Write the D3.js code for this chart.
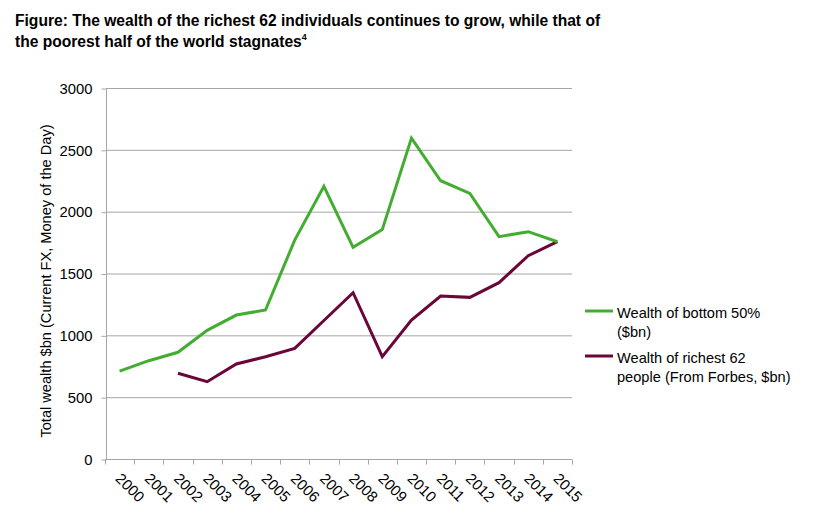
<!DOCTYPE html>
<html>
<head>
<meta charset="utf-8">
<script src="https://cdn.jsdelivr.net/npm/d3@7"></script>
<style>
  body { margin: 0; background: #fff; }
  text { font-family: "Liberation Sans", Arial, Helvetica, sans-serif; fill: #000; }
</style>
</head>
<body>
<svg id="chart" width="827" height="527"></svg>
<script>
// data
var years = ["2000","2001","2002","2003","2004","2005","2006","2007",
             "2008","2009","2010","2011","2012","2013","2014","2015"];
var bottom50 = [710, 795, 863, 1040, 1164, 1205, 1770, 2205, 1712, 1855, 2595, 2250, 2148, 1798, 1838, 1757];
var richest62 = [null, null, 693, 625, 768, 827, 895, 1120, 1345, 827, 1124, 1318, 1307, 1426, 1644, 1757];
var yTicks = [0, 500, 1000, 1500, 2000, 2500, 3000];

var green = "#42ad30", maroon = "#6a0638", gridColor = "#a6a6a6";

var svg = d3.select("#chart");

// plot area
var plotLeft = 106, plotRight = 572, plotTop = 88, plotBottom = 459;

var x = d3.scaleBand().domain(years).range([plotLeft - 1, plotRight]);
var y = d3.scaleLinear().domain([0, 3000]).range([plotBottom, plotTop]);

// title
var title = svg.append("g").style("font-weight", "bold").style("font-size", "15.6px");
title.append("text").attr("x", 15).attr("y", 26)
    .text("Figure: The wealth of the richest 62 individuals continues to grow, while that of");
var t2 = title.append("text").attr("x", 15).attr("y", 47).text("the poorest half of the world stagnates");
t2.append("tspan").attr("dy", -7).style("font-size", "9px").text("4");

// gridlines
svg.append("g").selectAll("line")
    .data(yTicks.filter(function(d) { return d > 0; }))
    .enter().append("line")
    .attr("x1", plotLeft).attr("x2", plotRight)
    .attr("y1", function(d) { return y(d) + 0.5; })
    .attr("y2", function(d) { return y(d) + 0.5; })
    .attr("stroke", gridColor).attr("stroke-width", 1);

// y axis
var yAxis = svg.append("g")
    .attr("transform", "translate(" + (plotLeft + 0.5) + ",0.5)")
    .call(d3.axisLeft(y).tickValues(yTicks).tickFormat(d3.format("d")).tickSize(5).tickPadding(9));
yAxis.select(".domain").attr("stroke", gridColor).attr("d", "M0," + plotTop + "V" + plotBottom);
yAxis.selectAll(".tick line").attr("stroke", gridColor);
yAxis.selectAll("text").style("font-size", "14.8px").style("font-family", null).attr("fill", "#000");

// x axis
var xAxis = svg.append("g")
    .attr("transform", "translate(0," + (plotBottom + 0.5) + ")");
xAxis.append("line").attr("x1", plotLeft - 1).attr("x2", plotRight).attr("y1", 0).attr("y2", 0)
    .attr("stroke", gridColor);
var tickXs = years.map(function(d) { return x(d); }).concat([x.range()[1]]);
xAxis.selectAll(".xtick").data(tickXs).enter().append("line")
    .attr("x1", function(d) { return Math.round(d) + 0.5; })
    .attr("x2", function(d) { return Math.round(d) + 0.5; })
    .attr("y1", 0).attr("y2", 5)
    .attr("stroke", gridColor);
xAxis.selectAll(".xlabel").data(years).enter().append("text")
    .attr("transform", function(d) {
      return "translate(" + (x(d) + x.bandwidth() / 2 - 5) + ",20) rotate(45)";
    })
    .style("font-size", "15px")
    .text(function(d) { return d; });

// y axis title
svg.append("text")
    .attr("transform", "translate(51,281) rotate(-90)")
    .attr("text-anchor", "middle")
    .style("font-size", "14.6px")
    .text("Total wealth $bn (Current FX, Money of the Day)");

// lines
var line = d3.line()
    .defined(function(d) { return d.v != null; })
    .x(function(d) { return x(d.year) + x.bandwidth() / 2; })
    .y(function(d) { return y(d.v); });

function series(vals) {
  return years.map(function(yr, i) { return {year: yr, v: vals[i]}; });
}

svg.append("path").datum(series(richest62))
    .attr("d", line).attr("fill", "none")
    .attr("stroke", maroon).attr("stroke-width", 3).attr("stroke-linejoin", "miter");
svg.append("path").datum(series(bottom50))
    .attr("d", line).attr("fill", "none")
    .attr("stroke", green).attr("stroke-width", 3).attr("stroke-linejoin", "miter");

// legend
var legend = [
  {color: green, lines: ["Wealth of bottom 50%", "($bn)"], y: 311},
  {color: maroon, lines: ["Wealth of richest 62", "people (From Forbes, $bn)"], y: 356}
];
var lg = svg.append("g").selectAll("g").data(legend).enter().append("g");
lg.append("line")
    .attr("x1", 585).attr("x2", 613)
    .attr("y1", function(d) { return d.y; }).attr("y2", function(d) { return d.y; })
    .attr("stroke", function(d) { return d.color; }).attr("stroke-width", 3);
lg.each(function(d) {
  var g = d3.select(this);
  d.lines.forEach(function(s, i) {
    g.append("text").attr("x", 617).attr("y", d.y + 7 + i * 18.5)
        .style("font-size", "14.6px").text(s);
  });
});
</script>
</body>
</html>
